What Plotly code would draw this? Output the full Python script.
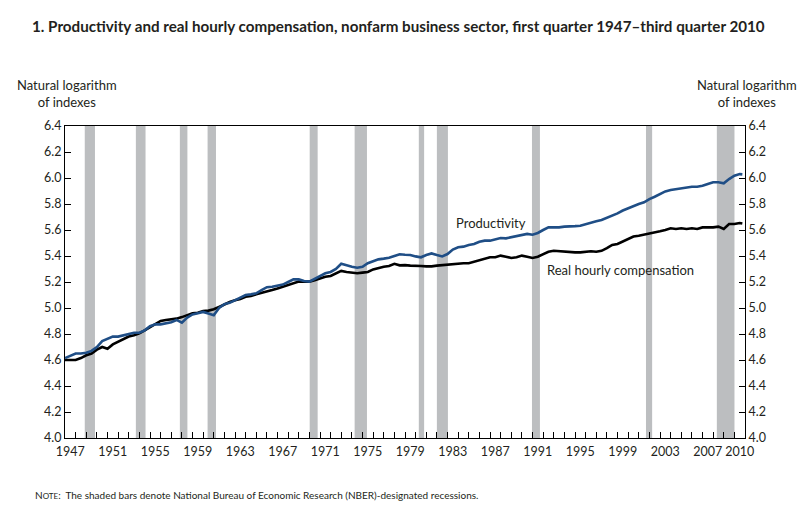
import plotly.graph_objects as go

# ---- data ----
years = [1947.0, 1947.5, 1948.0, 1948.5, 1949.0, 1949.5, 1950.0, 1950.5, 1951.0, 1951.5,
         1952.0, 1952.5, 1953.0, 1953.5, 1954.0, 1954.5, 1955.0, 1955.5, 1956.0, 1956.5,
         1957.0, 1957.5, 1958.0, 1958.5, 1959.0, 1959.5, 1960.0, 1960.5, 1961.0, 1961.5,
         1962.0, 1962.5, 1963.0, 1963.5, 1964.0, 1964.5, 1965.0, 1965.5, 1966.0, 1966.5,
         1967.0, 1967.5, 1968.0, 1968.5, 1969.0, 1969.5, 1970.0, 1970.5, 1971.0, 1971.5,
         1972.0, 1972.5, 1973.0, 1973.5, 1974.0, 1974.5, 1975.0, 1975.5, 1976.0, 1976.5,
         1977.0, 1977.5, 1978.0, 1978.5, 1979.0, 1979.5, 1980.0, 1980.5, 1981.0, 1981.5,
         1982.0, 1982.5, 1983.0, 1983.5, 1984.0, 1984.5, 1985.0, 1985.5, 1986.0, 1986.5,
         1987.0, 1987.5, 1988.0, 1988.5, 1989.0, 1989.5, 1990.0, 1990.5, 1991.0, 1991.5,
         1992.0, 1992.5, 1993.0, 1993.5, 1994.0, 1994.5, 1995.0, 1995.5, 1996.0, 1996.5,
         1997.0, 1997.5, 1998.0, 1998.5, 1999.0, 1999.5, 2000.0, 2000.5, 2001.0, 2001.5,
         2002.0, 2002.5, 2003.0, 2003.5, 2004.0, 2004.5, 2005.0, 2005.5, 2006.0, 2006.5,
         2007.0, 2007.5, 2008.0, 2008.5, 2009.0, 2009.5, 2010.0, 2010.5, 2010.75]

productivity = [4.615, 4.635, 4.650, 4.650, 4.656, 4.670, 4.700, 4.746, 4.760, 4.780,
                4.780, 4.790, 4.800, 4.810, 4.810, 4.828, 4.860, 4.874, 4.874, 4.880,
                4.890, 4.908, 4.887, 4.926, 4.950, 4.960, 4.970, 4.957, 4.944, 5.000,
                5.030, 5.040, 5.060, 5.080, 5.100, 5.105, 5.113, 5.138, 5.160, 5.164,
                5.174, 5.180, 5.200, 5.220, 5.220, 5.208, 5.203, 5.226, 5.250, 5.267,
                5.277, 5.300, 5.340, 5.328, 5.317, 5.310, 5.317, 5.344, 5.360, 5.374,
                5.380, 5.387, 5.400, 5.413, 5.410, 5.408, 5.397, 5.390, 5.408, 5.420,
                5.408, 5.397, 5.415, 5.450, 5.467, 5.472, 5.485, 5.492, 5.510, 5.518,
                5.518, 5.526, 5.538, 5.536, 5.544, 5.550, 5.560, 5.570, 5.564, 5.577,
                5.600, 5.620, 5.620, 5.620, 5.626, 5.626, 5.630, 5.633, 5.646, 5.660,
                5.667, 5.677, 5.692, 5.710, 5.728, 5.750, 5.767, 5.787, 5.800, 5.813,
                5.838, 5.856, 5.877, 5.897, 5.908, 5.915, 5.923, 5.928, 5.933, 5.933,
                5.940, 5.954, 5.967, 5.967, 5.959, 5.992, 6.018, 6.030, 6.028]

compensation = [4.600, 4.598, 4.600, 4.615, 4.636, 4.650, 4.680, 4.700, 4.687, 4.720,
                4.740, 4.754, 4.780, 4.790, 4.805, 4.828, 4.850, 4.874, 4.900, 4.908,
                4.913, 4.918, 4.930, 4.946, 4.960, 4.964, 4.977, 4.980, 4.990, 5.008,
                5.030, 5.046, 5.060, 5.070, 5.087, 5.092, 5.105, 5.118, 5.130, 5.138,
                5.150, 5.164, 5.177, 5.195, 5.203, 5.203, 5.203, 5.213, 5.226, 5.240,
                5.246, 5.267, 5.285, 5.277, 5.272, 5.267, 5.272, 5.277, 5.297, 5.310,
                5.317, 5.323, 5.340, 5.328, 5.330, 5.326, 5.326, 5.323, 5.320, 5.320,
                5.326, 5.330, 5.333, 5.338, 5.338, 5.344, 5.344, 5.356, 5.370, 5.382,
                5.390, 5.390, 5.403, 5.395, 5.385, 5.390, 5.403, 5.395, 5.385, 5.395,
                5.415, 5.433, 5.440, 5.436, 5.433, 5.428, 5.428, 5.428, 5.433, 5.436,
                5.433, 5.440, 5.460, 5.485, 5.492, 5.510, 5.530, 5.550, 5.556, 5.564,
                5.570, 5.577, 5.590, 5.600, 5.613, 5.608, 5.613, 5.608, 5.613, 5.608,
                5.620, 5.620, 5.620, 5.626, 5.608, 5.646, 5.646, 5.654, 5.650]

recession_start = [1948.86, 1953.67, 1957.81, 1960.42, 1970.03, 1974.26, 1980.30, 1982.00, 1990.95, 2001.68, 2008.35]
recession_end   = [1949.82, 1954.58, 1958.52, 1961.21, 1970.78, 1975.42, 1980.80, 1983.04, 1991.70, 2002.26, 2010.01]

tick_years = list(range(1947, 2012))
label_years = [1947, 1951, 1955, 1959, 1963, 1967, 1971, 1975, 1979, 1983, 1987, 1991, 1995, 1999, 2003, 2007, 2010]
y_ticks = [4.0, 4.2, 4.4, 4.6, 4.8, 5.0, 5.2, 5.4, 5.6, 5.8, 6.0, 6.2, 6.4]

FONT = "Lato"
TXT = "#231f20"

fig = go.Figure()
fig.add_trace(go.Scatter(x=years, y=compensation, mode="lines",
                         line=dict(color="#000000", width=2.6), showlegend=False))
fig.add_trace(go.Scatter(x=years, y=productivity, mode="lines",
                         line=dict(color="#1f4e86", width=2.6), showlegend=False))
# invisible trace for the right axis / label axis
fig.add_trace(go.Scatter(x=[years[0]], y=[productivity[0]], yaxis="y2", xaxis="x2",
                         mode="lines", line=dict(width=0), showlegend=False, hoverinfo="skip"))

shapes = []
for s, e in zip(recession_start, recession_end):
    shapes.append(dict(type="rect", xref="x", yref="paper", x0=s, x1=e, y0=0, y1=1,
                       fillcolor="#bcbec0", line=dict(width=0), layer="below"))

# page body adds an 8px offset; figure is sized/margined to compensate
fig.update_layout(
    width=800, height=506,
    margin=dict(l=57, r=63, t=118, b=76),
    paper_bgcolor="white", plot_bgcolor="white",
    font=dict(family=FONT, size=12, color=TXT),
    shapes=shapes,
    xaxis=dict(range=[1947, 2011], tickvals=tick_years, ticktext=["" for _ in tick_years],
               ticks="inside", ticklen=6, tickcolor="black", tickwidth=1,
               showline=True, linecolor="black", linewidth=1, mirror=True,
               showgrid=False, zeroline=False),
    xaxis2=dict(range=[1947, 2011], overlaying="x", anchor="y",
                tickvals=[y + 0.5 for y in label_years], ticktext=[str(y) for y in label_years],
                ticks="", showline=False, showgrid=False, zeroline=False, side="bottom",
                ticklabelstandoff=4,
                tickfont=dict(family=FONT, size=12.5, color=TXT)),
    yaxis=dict(range=[4.0, 6.4], tickvals=y_ticks, tickformat=".1f",
               ticks="inside", ticklen=6, tickcolor="black", tickwidth=1,
               showline=True, linecolor="black", linewidth=1,
               showgrid=False, zeroline=False, tickfont=dict(family=FONT, size=12.5, color=TXT)),
    yaxis2=dict(range=[4.0, 6.4], tickvals=y_ticks, tickformat=".1f", overlaying="y", side="right",
                ticks="inside", ticklen=6, tickcolor="black", tickwidth=1,
                showline=True, linecolor="black", linewidth=1,
                showgrid=False, zeroline=False, tickfont=dict(family=FONT, size=12.5, color=TXT)),
    annotations=[
        dict(text="<b>1. Productivity and real hourly compensation, nonfarm business sector, first quarter 1947–third quarter 2010</b>",
             xref="paper", yref="paper", x=-0.0515, y=1.3205, xanchor="left", yanchor="middle",
             showarrow=False, font=dict(family=FONT, size=15.2, color=TXT)),
        dict(text="Natural logarithm<br>of indexes", xref="paper", yref="paper", x=0.003, y=1.1026,
             xanchor="center", yanchor="middle", showarrow=False, align="center",
             font=dict(family=FONT, size=13, color=TXT)),
        dict(text="Natural logarithm<br>of indexes", xref="paper", yref="paper", x=1.003, y=1.1026,
             xanchor="center", yanchor="middle", showarrow=False, align="center",
             font=dict(family=FONT, size=13, color=TXT)),
        dict(text="Productivity", xref="x", yref="y", x=1987.1, y=5.656,
             xanchor="center", yanchor="middle", showarrow=False,
             font=dict(family=FONT, size=13, color=TXT)),
        dict(text="Real hourly compensation", xref="x", yref="y", x=1999.25, y=5.292,
             xanchor="center", yanchor="middle", showarrow=False,
             font=dict(family=FONT, size=13, color=TXT)),
        dict(text="N<span style='font-size:8px'>OTE</span>:  The shaded bars denote National Bureau of Economic Research (NBER)-designated recessions.",
             xref="paper", yref="paper", x=-0.047, y=-0.1827, xanchor="left", yanchor="middle",
             showarrow=False, font=dict(family=FONT, size=10, color=TXT)),
    ],
)

fig.write_html("out.html")
